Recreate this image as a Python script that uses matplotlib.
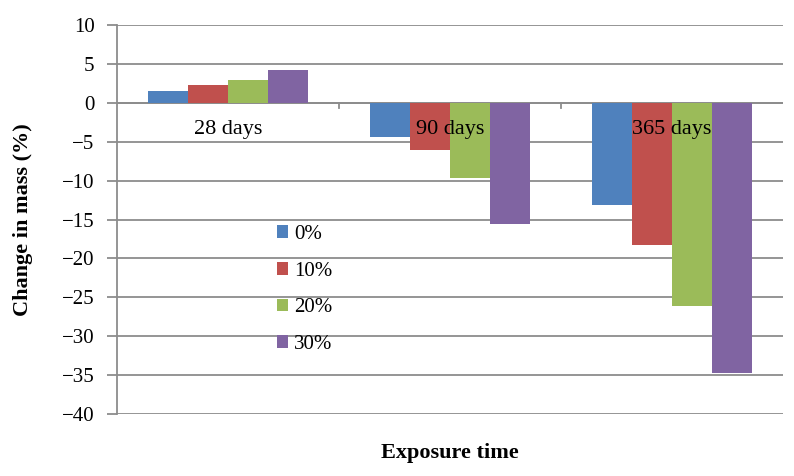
import numpy as np
import matplotlib.pyplot as plt

plt.rcParams["font.family"] = ["Liberation Serif", "DejaVu Serif"]

# Data
categories = ["28 days", "90 days", "365 days"]
series_names = ["0%", "10%", "20%", "30%"]
mass_0 = [1.5, -4.4, -13.1]
mass_10 = [2.3, -6.0, -18.3]
mass_20 = [2.9, -9.6, -26.1]
mass_30 = [4.2, -15.6, -34.7]
colors = ["#4F81BD", "#C0504D", "#9BBB59", "#8064A2"]

fig = plt.figure(figsize=(7.94, 4.76), dpi=100)
ax = fig.add_axes([0.147, 0.130, 0.839, 0.8175])

x = np.arange(len(categories))
width = 0.18
all_series = [mass_0, mass_10, mass_20, mass_30]
for i, (vals, name, c) in enumerate(zip(all_series, series_names, colors)):
    ax.bar(x + (i - 1.5) * width, vals, width, color=c, label=name, zorder=2)

# Axes limits and grid
ax.set_xlim(-0.5, len(categories) - 0.5)
ax.set_ylim(-40, 10)
ax.set_yticks(np.arange(-40, 11, 5))
ax.yaxis.grid(True, color="#8c8c8c", linewidth=1.3, zorder=0)
ax.set_axisbelow(True)
ax.tick_params(axis="y", labelsize=15, length=7, color="#8c8c8c", width=1.3, pad=9)
ax.set_xticks([])

for side in ["top", "right", "bottom"]:
    ax.spines[side].set_visible(False)
ax.spines["left"].set_color("#8c8c8c")
ax.spines["left"].set_linewidth(1.3)

# Category axis at zero
ax.axhline(0, color="#8c8c8c", linewidth=1.3, zorder=1)
for b in np.arange(0.5, len(categories) - 0.5, 1):
    ax.plot([b, b], [0, -0.7], color="#8c8c8c", linewidth=1.3, zorder=1)
for i, cat in enumerate(categories):
    ax.annotate(cat, (x[i], 0), xytext=(0, -27), textcoords="offset pixels",
                ha="center", va="center", fontsize=16, zorder=5)

ax.set_ylabel("Change in mass (%)", fontsize=16, fontweight="bold", labelpad=21)
ax.set_xlabel("Exposure time", fontsize=16, fontweight="bold", labelpad=21)

ax.legend(loc="upper left", bbox_to_anchor=(0.2245, 0.513), frameon=False,
          fontsize=15, handlelength=0.55, handleheight=0.55, handletextpad=0.3,
          labelspacing=0.85, borderpad=0)

plt.savefig("out.png", dpi=100)
